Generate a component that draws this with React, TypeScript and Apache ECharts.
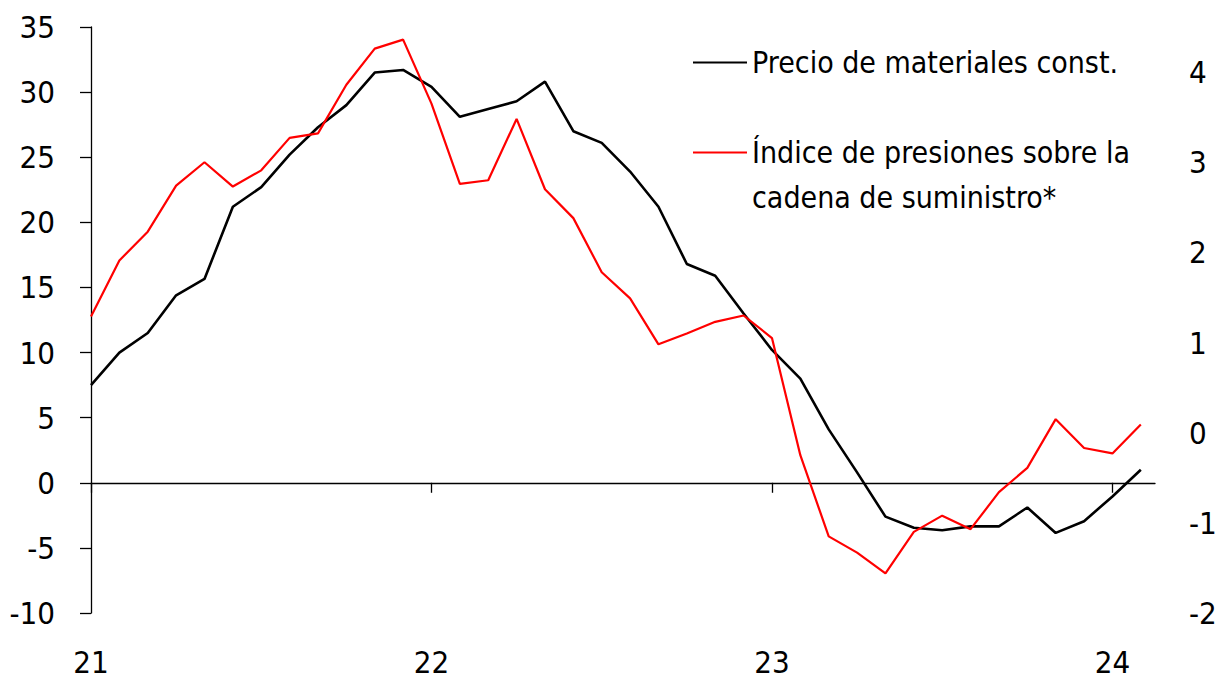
import React, { useEffect, useRef } from "react";
import * as echarts from "echarts";

const months = [
  "ene-21", "feb-21", "mar-21", "abr-21", "may-21", "jun-21", "jul-21", "ago-21", "sep-21", "oct-21", "nov-21", "dic-21",
  "ene-22", "feb-22", "mar-22", "abr-22", "may-22", "jun-22", "jul-22", "ago-22", "sep-22", "oct-22", "nov-22", "dic-22",
  "ene-23", "feb-23", "mar-23", "abr-23", "may-23", "jun-23", "jul-23", "ago-23", "sep-23", "oct-23", "nov-23", "dic-23",
  "ene-24", "feb-24",
];

const yearLabels = ["21", "22", "23", "24"];
const yearTickPositions = [0, 12, 24, 36];

const precioMateriales = [
  7.5, 10.0, 11.5, 14.4, 15.65, 21.2, 22.7, 25.2, 27.3, 29.0, 31.5, 31.7,
  30.4, 28.1, 28.7, 29.3, 30.8, 27.0, 26.1, 23.9, 21.2, 16.8, 15.9, 13.0,
  10.2, 8.0, 4.1, 0.8, -2.6, -3.45, -3.65, -3.35, -3.35, -1.9, -3.85, -2.95,
  -1.05, 1.0,
];

const indicePresiones = [
  1.29, 1.91, 2.23, 2.74, 3.0, 2.73, 2.91, 3.27, 3.32, 3.86, 4.26, 4.36,
  3.65, 2.76, 2.8, 3.48, 2.7, 2.38, 1.78, 1.49, 0.98, 1.1, 1.23, 1.3,
  1.05, -0.25, -1.15, -1.33, -1.56, -1.1, -0.92, -1.07, -0.66, -0.39, 0.15, -0.17,
  -0.23, 0.09,
];

const leftTicks = { min: -10, max: 35, interval: 5 };
const rightTicks = { min: -2, max: 4.5, interval: 1 };

const NAME_A = "Precio de materiales const.";
const NAME_B = "Índice de presiones sobre la\ncadena de suministro*";

const FONT = "'DejaVu Sans Condensed', 'DejaVu Sans', sans-serif";
const AXIS_FS = 31;
const LEGEND_FS = 30;

export default function App() {
  const ref = useRef<HTMLDivElement>(null);

  useEffect(() => {
    if (!ref.current) return;
    const chart = echarts.init(ref.current, null, { renderer: "svg" });
    const xMax = months.length - 0.5;

    const option: any = {
      animation: false,
      backgroundColor: "#fff",
      textStyle: { fontFamily: FONT },
      grid: { left: 91, right: 66, top: 27, bottom: 66, containLabel: false },
      legend: [
        {
          data: [NAME_A],
          left: 693,
          top: 40,
          padding: 0,
          icon: "rect",
          itemWidth: 54,
          itemHeight: 2,
          textStyle: { fontFamily: FONT, fontSize: LEGEND_FS, color: "#000", lineHeight: 45 },
          selectedMode: false,
        },
        {
          data: [NAME_B],
          left: 693,
          top: 85,
          padding: 0,
          icon: "rect",
          itemWidth: 54,
          itemHeight: 2,
          formatter: (name: string) => "\n" + name,
          textStyle: { fontFamily: FONT, fontSize: LEGEND_FS, color: "#000", lineHeight: 45 },
          selectedMode: false,
        },
      ],
      xAxis: [
        {
          type: "value",
          position: "top",
          min: 0,
          max: xMax,
          axisLine: { show: true, onZero: true, lineStyle: { color: "#000", width: 1.3 } },
          axisTick: {
            show: true,
            inside: true,
            length: 10,
            customValues: yearTickPositions,
            lineStyle: { color: "#000", width: 1.3 },
          },
          axisLabel: { show: false },
          splitLine: { show: false },
        },
        {
          type: "value",
          position: "bottom",
          min: 0,
          max: xMax,
          axisLine: { show: false, onZero: false },
          axisTick: { show: false },
          axisLabel: {
            show: true,
            customValues: yearTickPositions,
            formatter: (v: number) => yearLabels[yearTickPositions.indexOf(v)] ?? "",
            fontFamily: FONT,
            fontSize: AXIS_FS,
            lineHeight: 30,
            color: "#000",
            margin: 34,
          },
          splitLine: { show: false },
        },
      ],
      yAxis: [
        {
          type: "value",
          position: "left",
          min: leftTicks.min,
          max: leftTicks.max,
          interval: leftTicks.interval,
          axisLine: { show: true, onZero: false, lineStyle: { color: "#000", width: 1.3 } },
          axisTick: { show: true, length: 11, lineStyle: { color: "#000", width: 1.3 } },
          axisLabel: { fontFamily: FONT, fontSize: AXIS_FS, color: "#000", margin: 36 },
          splitLine: { show: false },
        },
        {
          type: "value",
          position: "right",
          min: rightTicks.min,
          max: rightTicks.max,
          interval: rightTicks.interval,
          axisLine: { show: false, onZero: false },
          axisTick: { show: false },
          axisLabel: {
            fontFamily: FONT,
            fontSize: AXIS_FS,
            color: "#000",
            margin: 34,
            showMaxLabel: false,
            formatter: (v: number) => (Number.isInteger(v) ? String(v) : ""),
          },
          splitLine: { show: false },
        },
      ],
      series: [
        {
          name: NAME_A,
          type: "line",
          xAxisIndex: 0,
          yAxisIndex: 0,
          data: months.map((m, i) => [i, precioMateriales[i]]),
          symbol: "none",
          color: "#000",
          lineStyle: { color: "#000", width: 2.6 },
        },
        {
          name: NAME_B,
          type: "line",
          xAxisIndex: 0,
          yAxisIndex: 1,
          data: months.map((m, i) => [i, indicePresiones[i]]),
          symbol: "none",
          color: "#ff0000",
          lineStyle: { color: "#ff0000", width: 2.2 },
        },
      ],
    };

    chart.setOption(option);
    return () => chart.dispose();
  }, []);

  return (
    <div
      ref={ref}
      style={{ position: "fixed", left: 0, top: 0, width: 1221, height: 679, background: "#fff" }}
    />
  );
}
